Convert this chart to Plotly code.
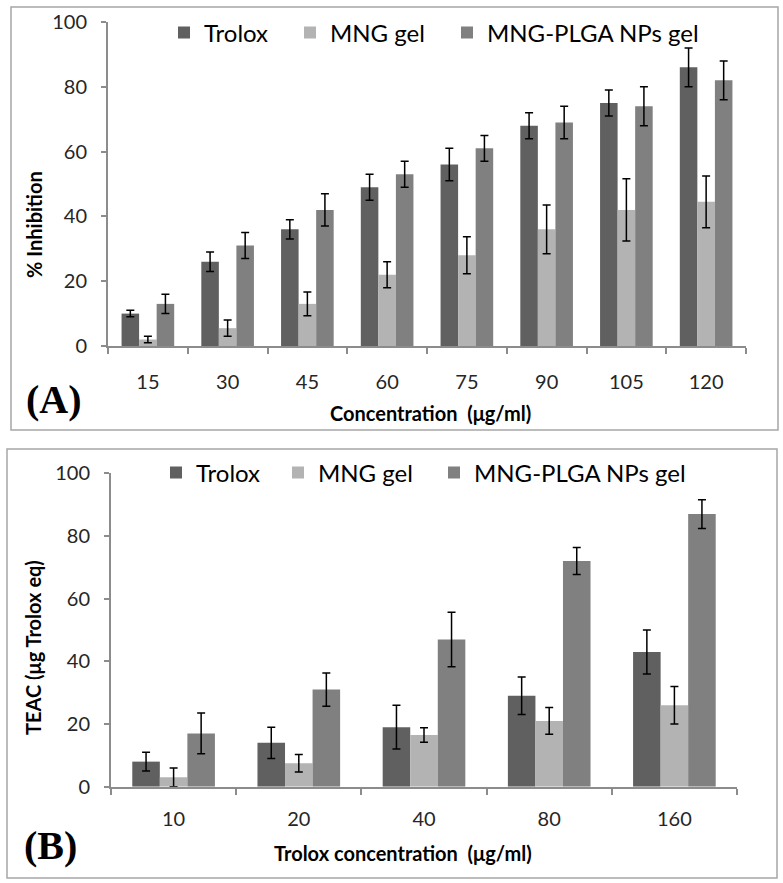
import plotly.graph_objects as go

W, H = 783, 883

# ---------------- data ----------------
series_names = ["Trolox", "MNG gel", "MNG-PLGA NPs gel"]

a_categories = ["15", "30", "45", "60", "75", "90", "105", "120"]
a_trolox = [10, 26, 36, 49, 56, 68, 75, 86]
a_trolox_err = [1, 3, 3, 4, 5, 4, 4, 6]
a_mng = [2, 5.5, 13, 22, 28, 36, 42, 44.5]
a_mng_err = [1, 2.5, 3.7, 4, 5.7, 7.5, 9.6, 8]
a_plga = [13, 31, 42, 53, 61, 69, 74, 82]
a_plga_err = [3, 4, 5, 4, 4, 5, 6, 6]

b_categories = ["10", "20", "40", "80", "160"]
b_trolox = [8, 14, 19, 29, 43]
b_trolox_err = [3, 5, 7, 6, 7]
b_mng = [3, 7.5, 16.5, 21, 26]
b_mng_err = [3, 2.8, 2.3, 4.3, 6]
b_plga = [17, 31, 47, 72, 87]
b_plga_err = [6.5, 5.3, 8.7, 4.3, 4.6]

y_ticks = [0, 20, 40, 60, 80, 100]

# ---------------- style ----------------
colors = ["#606060", "#b3b3b3", "#808080"]
FONT = "Lato"
TEXT = "#262626"
AXIS = "#8c8c8c"


def px(x):
    return x / W


def py(y):
    return 1 - y / H


fig = go.Figure()

a_vals = [(a_trolox, a_trolox_err), (a_mng, a_mng_err), (a_plga, a_plga_err)]
b_vals = [(b_trolox, b_trolox_err), (b_mng, b_mng_err), (b_plga, b_plga_err)]

for i, (name, (v, e)) in enumerate(zip(series_names, a_vals)):
    fig.add_trace(go.Bar(
        x=a_categories, y=v, name=name, marker=dict(color=colors[i], line=dict(width=0)),
        error_y=dict(type="data", array=e, color="black", thickness=1.5, width=4),
        xaxis="x", yaxis="y", legend="legend" if i == 0 else f"legend{i+1}",
    ))
for i, (name, (v, e)) in enumerate(zip(series_names, b_vals)):
    fig.add_trace(go.Bar(
        x=b_categories, y=v, name=name, marker=dict(color=colors[i], line=dict(width=0)),
        error_y=dict(type="data", array=e, color="black", thickness=1.5, width=4),
        xaxis="x2", yaxis="y2", legend=f"legend{i+4}",
    ))

axis_common = dict(
    showline=True, linecolor=AXIS, linewidth=2, showgrid=False, zeroline=False,
    ticks="outside", tickcolor=AXIS, tickwidth=2, automargin=False,
    tickfont=dict(family=FONT, size=20, color=TEXT),
)

fig.update_layout(
    width=W, height=H, margin=dict(l=0, r=0, t=0, b=0, autoexpand=False),
    paper_bgcolor="white", plot_bgcolor="white",
    barmode="group", bargap=0.34, bargroupgap=0,
    xaxis=dict(axis_common, domain=[px(108), px(746)], anchor="y",
               type="category", tickson="boundaries", ticklen=6, ticklabelstandoff=17),
    yaxis=dict(axis_common, domain=[py(346), py(22)], anchor="x",
               range=[0, 100], tickvals=y_ticks, ticklen=5, ticklabelstandoff=10),
    xaxis2=dict(axis_common, domain=[px(111), px(737)], anchor="y2",
                type="category", tickson="boundaries", ticklen=6, ticklabelstandoff=13),
    yaxis2=dict(axis_common, domain=[py(786.7), py(473.3)], anchor="x2",
                range=[0, 100], tickvals=y_ticks, ticklen=5, ticklabelstandoff=10),
    showlegend=True,
)

# legends: one per series per panel, placed individually
leg_font = dict(family=FONT, size=24, color="black")
a_leg_x = [164, 290, 447]
b_leg_x = [156, 278, 434]
for i in range(3):
    key = "legend" if i == 0 else f"legend{i+1}"
    fig.update_layout({key: dict(x=px(a_leg_x[i]), y=py(33), xanchor="left", yanchor="middle",
                                 orientation="h", font=leg_font, bgcolor="rgba(0,0,0,0)",
                                 borderwidth=0)})
    fig.update_layout({f"legend{i+4}": dict(x=px(b_leg_x[i]), y=py(473), xanchor="left",
                                            yanchor="middle", orientation="h", font=leg_font,
                                            bgcolor="rgba(0,0,0,0)", borderwidth=0)})

title_font = dict(family=FONT, size=20, color="black", weight="bold")
annotations = [
    dict(text="% Inhibition", x=px(34), y=py(225), textangle=-90, font=title_font),
    dict(text="Concentration  (μg/ml)", x=px(430), y=py(413), font=title_font),
    dict(text="TEAC (μg Trolox eq)", x=px(33), y=py(648), textangle=-90, font=title_font),
    dict(text="Trolox concentration  (μg/ml)", x=px(403), y=py(853), font=title_font),
    dict(text="<b>(A)</b>", x=px(54), y=py(399),
         font=dict(family="Liberation Serif", size=40, color="black")),
    dict(text="<b>(B)</b>", x=px(50), y=py(845),
         font=dict(family="Liberation Serif", size=40, color="black")),
]
for a in annotations:
    a.update(xref="paper", yref="paper", showarrow=False, xanchor="center", yanchor="middle")
fig.update_layout(annotations=annotations)

border = dict(color="#a6a6a6", width=1.5)
fig.update_layout(shapes=[
    dict(type="rect", xref="paper", yref="paper", x0=px(11), x1=px(778), y0=py(430), y1=py(7),
         line=border, fillcolor="rgba(0,0,0,0)", layer="below"),
    dict(type="rect", xref="paper", yref="paper", x0=px(7), x1=px(777), y0=py(878), y1=py(449),
         line=border, fillcolor="rgba(0,0,0,0)", layer="below"),
])

fig.write_html("out.html", config={"displayModeBar": False},
               post_script="document.body.style.margin='0';")
